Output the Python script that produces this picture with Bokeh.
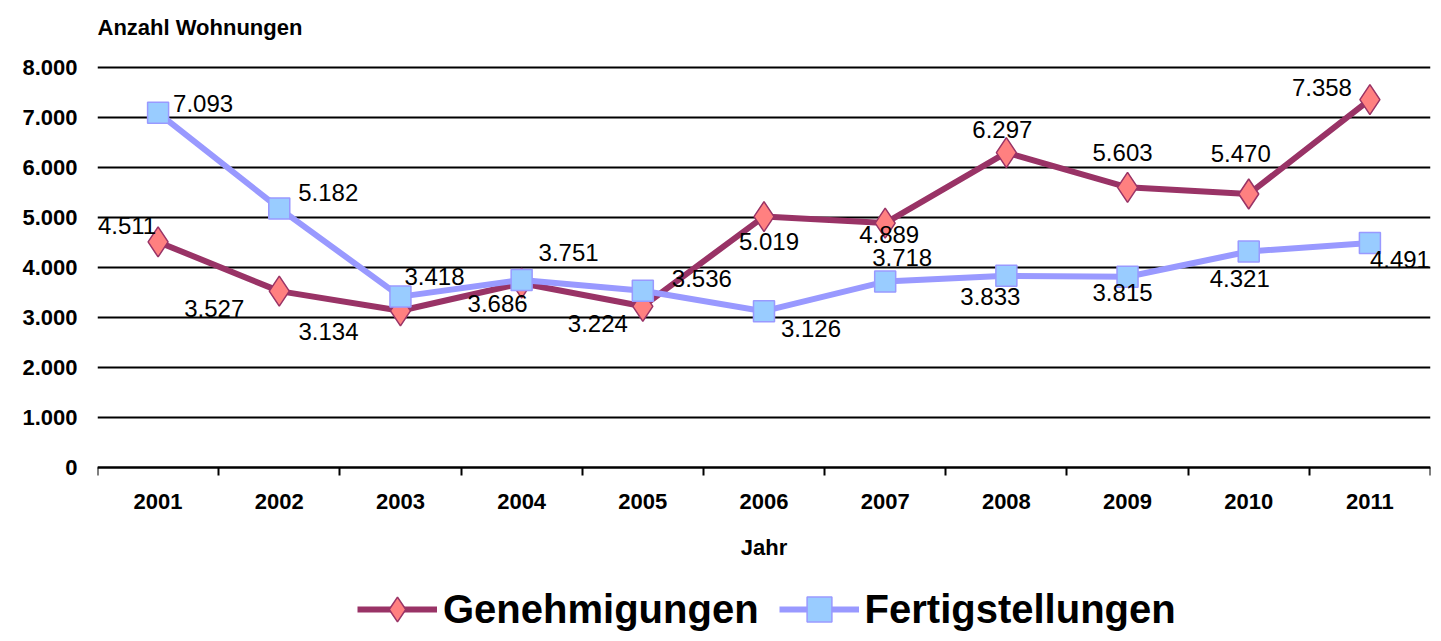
from bokeh.plotting import figure
from bokeh.models import (Range1d, FixedTicker, LabelSet, Label, ColumnDataSource,
                          Legend, LegendItem, BasicTickFormatter)
from bokeh.core.properties import value
from bokeh.embed import file_html
from bokeh.resources import INLINE

# ---------------- data ----------------
years = [2001, 2002, 2003, 2004, 2005, 2006, 2007, 2008, 2009, 2010, 2011]
genehmigungen = [4511, 3527, 3134, 3686, 3224, 5019, 4889, 6297, 5603, 5470, 7358]
fertigstellungen = [7093, 5182, 3418, 3751, 3536, 3126, 3718, 3833, 3815, 4321, 4491]
y_ticks = [0, 1000, 2000, 3000, 4000, 5000, 6000, 7000, 8000]
series_names = ["Genehmigungen", "Fertigstellungen"]
title_text = "Anzahl Wohnungen"

# label placement (screen px, dx to the right, dy downward)
g_dx = [-31, -65, -72, -24, -45, 5, 4, -4, -5, -8, -48]
g_dy = [-16, 17, 21, 20, 17, 25, 11, -23, -35, -41, -12]
f_dx = [45, 49, 34, 47, 59, 47, 17, -16, -5, -9, 30]
f_dy = [-9, -16, -20, -27, -12, 17, -24, 21, 16, 27, 17]

FONT = "Liberation Sans"
G_LINE = "#993366"
G_FILL = "#FF8080"
F_LINE = "#9999FF"
F_FILL = "#99CCFF"

W, H = 1440, 640
TOP_Y, ZERO_Y = 67, 467              # pixel rows of 8.000 and 0
TITLE_Y = 27                          # pixel row of the title's middle
PX_PER_UNIT = (ZERO_Y - TOP_Y) / (y_ticks[-1] - y_ticks[0])
Y_MIN = -(H - ZERO_Y) / PX_PER_UNIT   # frame runs down to the canvas bottom
Y_MAX = y_ticks[-1] + TOP_Y / PX_PER_UNIT   # ... and up to the canvas top


def de(v):
    return f"{v:,}".replace(",", ".")


src = ColumnDataSource(dict(
    x=years,
    g=genehmigungen,
    f=fertigstellungen,
    g_txt=[de(v) for v in genehmigungen],
    f_txt=[de(v) for v in fertigstellungen],
    g_dx=g_dx, g_dy=[-d for d in g_dy],
    f_dx=f_dx, f_dy=[-d for d in f_dy],
))

p = figure(width=W, height=H, output_backend="svg", toolbar_location=None, title=None,
           x_range=Range1d(years[0] - 0.5, years[-1] + 0.5),
           y_range=Range1d(Y_MIN, Y_MAX),
           min_border_left=97, min_border_right=10,
           min_border_top=0, min_border_bottom=0)
p.outline_line_color = None
p.background_fill_color = "white"

# title (y-axis caption, top left)
p.add_layout(Label(x=years[0] - 0.5, y=y_ticks[-1] + (TOP_Y - TITLE_Y) / PX_PER_UNIT,
                   text=title_text, text_font=FONT, text_font_size="22px",
                   text_font_style="bold", text_color="black",
                   text_align="left", text_baseline="middle"))

# grid
p.xgrid.visible = False
p.ygrid.ticker = FixedTicker(ticks=y_ticks)
p.ygrid.grid_line_color = "black"
p.ygrid.grid_line_width = 2

# y axis
ya = p.yaxis[0]
ya.ticker = FixedTicker(ticks=y_ticks)
ya.major_label_overrides = {t: de(t) for t in y_ticks}
ya.axis_line_color = None
ya.major_tick_line_color = None
ya.minor_tick_line_color = None
ya.major_tick_out = 0
ya.major_tick_in = 0
ya.major_label_standoff = 20
ya.major_label_text_font = FONT
ya.major_label_text_font_size = "22px"
ya.major_label_text_font_style = "bold"
ya.major_label_text_color = "black"

# x axis, drawn on the zero line
xa = p.xaxis[0]
xa.fixed_location = 0
bounds = [y - 0.5 for y in years] + [years[-1] + 0.5]
xa.ticker = FixedTicker(ticks=years, minor_ticks=bounds)
xa.formatter = BasicTickFormatter(use_scientific=False)
xa.axis_line_color = "black"
xa.axis_line_width = 2
xa.major_tick_out = 0
xa.major_tick_in = 0
xa.major_tick_line_color = None
xa.minor_tick_out = 8
xa.minor_tick_in = 0
xa.minor_tick_line_color = "black"
xa.minor_tick_line_width = 2
xa.major_label_standoff = 18
xa.major_label_text_font = FONT
xa.major_label_text_font_size = "22px"
xa.major_label_text_font_style = "bold"
xa.major_label_text_color = "black"
xa.axis_label = "Jahr"
xa.axis_label_text_font = FONT
xa.axis_label_text_font_size = "22px"
xa.axis_label_text_font_style = "bold"
xa.axis_label_text_color = "black"
xa.axis_label_standoff = 23

# series
g_line = p.line("x", "g", source=src, line_color=G_LINE, line_width=6)
g_pts = p.scatter("x", "g", source=src, marker="diamond", size=30,
                  fill_color=G_FILL, line_color=G_LINE, line_width=1.5)
f_line = p.line("x", "f", source=src, line_color=F_LINE, line_width=6)
f_pts = p.scatter("x", "f", source=src, marker="square", size=21,
                  fill_color=F_FILL, line_color=F_LINE, line_width=1.5)

lbl_kw = dict(source=src, text_font=value(FONT), text_font_size="24px", text_color="black",
              text_align="center", text_baseline="middle")
p.add_layout(LabelSet(x="x", y="g", text="g_txt", x_offset="g_dx", y_offset="g_dy", **lbl_kw))
p.add_layout(LabelSet(x="x", y="f", text="f_txt", x_offset="f_dx", y_offset="f_dy", **lbl_kw))

legend = Legend(items=[LegendItem(label=series_names[0], renderers=[g_line, g_pts]),
                       LegendItem(label=series_names[1], renderers=[f_line, f_pts])],
                orientation="horizontal", location=(260, 0),
                glyph_width=80, glyph_height=62, label_standoff=6, spacing=20,
                padding=0, margin=0, border_line_color=None, background_fill_alpha=0,
                label_text_font=FONT, label_text_font_size="40px",
                label_text_font_style="bold", label_text_color="black")
p.add_layout(legend, "center")

open("out.html", "w").write(file_html(p, INLINE))
